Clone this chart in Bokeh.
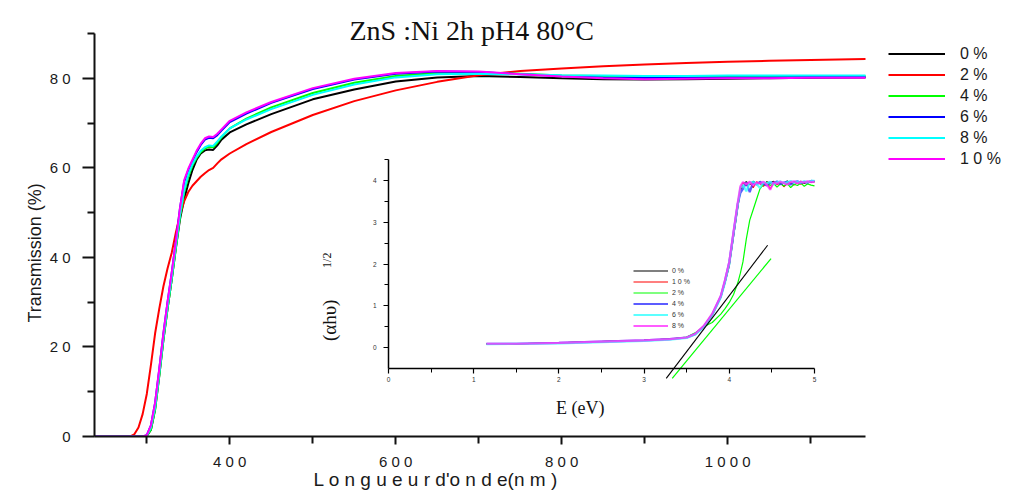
import math
from bokeh.plotting import figure
from bokeh.models import Legend, LegendItem, Label, FixedTicker, Range1d, LinearAxis, Title
from bokeh.embed import file_html
from bokeh.resources import INLINE

# ---------------- main chart data : transmission vs wavelength ----------------
wavelength = [237, 280, 285, 290, 295, 300, 305, 310, 315, 320, 325, 330, 335, 340, 345,
              350, 355, 360, 365, 370, 375, 380, 385, 390, 400, 420, 450, 500, 550, 600,
              650, 700, 750, 800, 850, 900, 950, 1000, 1050, 1100, 1166]

trans_0 = [0, 0, 0, 0, 0, 0.1, 1.5, 6, 13.5, 21.5, 28.5, 35, 42, 48.5, 53,
           56.5, 59.5, 61.8, 63.2, 63.9, 64.1, 64.0, 65.0, 66.3, 67.9, 69.7, 72.0, 75.3, 77.5, 79.3,
           80.2, 80.5, 80.3, 80.0, 79.8, 79.7, 79.8, 79.9, 80.0, 80.1, 80.2]
trans_2 = [0, 0, 0.5, 2, 5, 9.5, 16, 23, 28.5, 33.5, 37.5, 41, 45.5, 49.5, 52.5,
           54.6, 56.0, 57.0, 58.0, 58.8, 59.5, 60.0, 61.0, 61.9, 63.2, 65.3, 68.0, 71.8, 74.9, 77.3,
           79.2, 80.7, 81.6, 82.2, 82.7, 83.1, 83.4, 83.7, 83.9, 84.1, 84.3]
trans_4 = [0, 0, 0, 0, 0, 0.1, 1.5, 6, 13.5, 21.5, 28.5, 35, 42, 49, 54.5,
           58, 60.5, 62.2, 63.5, 64.3, 64.7, 64.6, 65.6, 66.8, 68.8, 71.0, 73.5, 76.7, 79.0, 80.5,
           81.2, 81.3, 81.0, 80.6, 80.5, 80.5, 80.5, 80.5, 80.5, 80.5, 80.5]
trans_6 = [0, 0, 0, 0, 0, 0.3, 2.5, 7.5, 15, 23, 30, 36.5, 43.5, 51, 56.8,
           59.5, 61.5, 63.5, 65.1, 66.3, 66.7, 66.6, 67.3, 68.3, 70.2, 72.1, 74.5, 77.6, 79.7, 81.0,
           81.5, 81.4, 80.9, 80.5, 80.2, 80.1, 80.1, 80.2, 80.2, 80.3, 80.3]
trans_8 = [0, 0, 0, 0, 0, 0.2, 2, 6.5, 14, 22, 29, 35.5, 42.5, 49.5, 55,
           58.5, 60.8, 62.5, 63.8, 64.6, 65.0, 64.9, 65.9, 67.0, 68.8, 70.8, 73.1, 76.3, 78.6, 80.2,
           80.9, 81.0, 80.9, 80.7, 80.6, 80.5, 80.5, 80.6, 80.6, 80.6, 80.6]
trans_10 = [0, 0, 0, 0, 0, 0.3, 2.5, 7.5, 15, 23, 30, 36.5, 43.5, 51, 57.2,
            59.8, 61.8, 63.8, 65.4, 66.6, 67.0, 66.9, 67.6, 68.6, 70.5, 72.4, 74.7, 77.8, 79.9, 81.2,
            81.6, 81.5, 80.9, 80.4, 80.0, 79.8, 79.9, 80.0, 80.0, 80.1, 80.1]

main_labels = ["0 %", "2 %", "4 %", "6 %", "8 %", "1 0 %"]
main_colors = ["#000000", "#ff0000", "#00ff00", "#0000ff", "#00ffff", "#ff00ff"]
main_series = [trans_0, trans_2, trans_4, trans_6, trans_8, trans_10]

x_major = [400, 600, 800, 1000]
x_major_labels = ["4 0 0", "6 0 0", "8 0 0", "1 0 0 0"]
x_minor = [300, 500, 700, 900, 1100]
y_major = [0, 20, 40, 60, 80]
y_major_labels = ["0", "2 0", "4 0", "6 0", "8 0"]
y_minor = [10, 30, 50, 70, 90]

# ---------------- inset data : (alpha h nu)^1/2 vs E ----------------
energy = [1.15, 1.5, 2.0, 2.5, 3.0, 3.3, 3.5, 3.6, 3.7, 3.8, 3.9, 3.95, 4.0, 4.05, 4.1, 4.13,
          4.16, 4.20, 4.24, 4.28, 4.32, 4.36, 4.40, 4.44, 4.48, 4.52, 4.56, 4.60, 4.64, 4.68,
          4.72, 4.76, 4.80, 4.84, 4.88, 4.92, 4.96, 5.00]
ahv_0 = [0.09, 0.09, 0.11, 0.14, 0.17, 0.20, 0.24, 0.32, 0.50, 0.78, 1.20, 1.55, 1.95, 2.65, 3.35, 3.75,
         3.92, 3.97, 3.90, 3.98, 3.93, 3.96, 3.89, 3.97, 3.94, 3.98, 3.91, 3.96, 3.93, 3.99,
         3.92, 3.97, 3.95, 3.98, 3.93, 3.97, 3.96, 3.98]
ahv_10 = [0.09, 0.09, 0.11, 0.14, 0.17, 0.20, 0.24, 0.33, 0.51, 0.80, 1.22, 1.58, 2.00, 2.70, 3.40, 3.80,
          3.95, 3.88, 3.96, 3.83, 3.97, 3.92, 3.86, 3.95, 3.80, 3.94, 3.90, 3.96, 3.85, 3.93,
          3.97, 3.89, 3.95, 3.91, 3.97, 3.94, 3.98, 3.96]
ahv_2 = [0.08, 0.09, 0.11, 0.14, 0.17, 0.20, 0.25, 0.35, 0.50, 0.60, 0.80, 0.93, 1.08, 1.27, 1.55, 1.78,
         2.05, 2.60, 3.05, 3.30, 3.55, 3.80, 3.90, 3.95, 3.88, 3.93, 3.84, 3.92, 3.87, 3.93,
         3.83, 3.91, 3.88, 3.94, 3.86, 3.92, 3.89, 3.87]
ahv_4 = [0.09, 0.09, 0.11, 0.14, 0.17, 0.20, 0.24, 0.32, 0.50, 0.79, 1.22, 1.60, 2.05, 2.75, 3.45, 3.70,
         3.80, 3.95, 3.72, 3.96, 3.90, 3.97, 3.92, 3.88, 3.96, 3.93, 3.98, 3.91, 3.95, 3.97,
         3.90, 3.96, 3.98, 3.94, 3.97, 3.95, 3.99, 3.98]
ahv_6 = [0.08, 0.09, 0.10, 0.13, 0.16, 0.19, 0.23, 0.31, 0.49, 0.78, 1.20, 1.56, 2.00, 2.72, 3.42, 3.82,
         3.90, 3.74, 3.95, 3.97, 3.92, 3.82, 3.96, 3.93, 3.97, 3.90, 3.95, 3.98, 3.93, 3.96,
         3.99, 3.94, 3.97, 3.95, 3.98, 3.96, 3.99, 3.99]
ahv_8 = [0.09, 0.09, 0.11, 0.14, 0.17, 0.20, 0.24, 0.33, 0.52, 0.81, 1.24, 1.62, 2.05, 2.78, 3.48, 3.86,
         3.96, 3.91, 3.97, 3.88, 3.95, 3.93, 3.97, 3.90, 3.78, 3.96, 3.92, 3.97, 3.94, 3.90,
         3.96, 3.98, 3.93, 3.97, 3.95, 3.98, 3.96, 3.97]

tangent_0_e = [3.26, 4.45]
tangent_0_y = [-0.74, 2.45]
tangent_2_e = [3.33, 4.49]
tangent_2_y = [-0.74, 2.13]

inset_labels = ["0 %", "1 0 %", "2 %", "4 %", "6 %", "8 %"]
inset_colors = ["#000000", "#ff0000", "#00ff00", "#3333ff", "#33ffff", "#ff33ff"]
inset_series = [ahv_0, ahv_10, ahv_2, ahv_4, ahv_6, ahv_8]
inset_widths = [1.1, 1.2, 1.2, 2.2, 2.2, 2.2]
inset_alphas = [1.0, 1.0, 1.0, 0.8, 0.8, 0.8]

SANS = "Liberation Sans"
SERIF = "Liberation Serif"

# ---------------- figure ----------------
# the frame runs on to the right edge so that the legend sits inside it;
# the wavelength axis itself is bounded to the data span
p = figure(width=1009, height=491, x_range=Range1d(237, 1334.7), y_range=Range1d(0, 90),
           output_backend="svg", toolbar_location=None, title="ZnS :Ni 2h pH4 80°C",
           min_border_left=94, min_border_right=4, min_border_top=33, min_border_bottom=55)
p.outline_line_color = None
p.xgrid.visible = False
p.ygrid.visible = False
p.title.text_font = SERIF
p.title.text_font_size = "28px"
p.title.text_font_style = "normal"
p.title.text_color = "#111111"
p.title.align = "left"
p.title.offset = 255
p.title.standoff = -24
p.title.text_line_height = 1.0

# inset coordinate system inside the main frame
p.extra_x_ranges = {"inset_x": Range1d(-3.4507, 7.2418)}
p.extra_y_ranges = {"inset_y": Range1d(-2.1317, 7.521)}

renderers = []
for ys, c in zip(main_series, main_colors):
    renderers.append(p.line(wavelength, ys, line_color=c, line_width=2))

xa = p.xaxis[0]
ya = p.yaxis[0]
xa.bounds = (237, 1166)
xa.ticker = FixedTicker(ticks=x_major, minor_ticks=x_minor)
ya.ticker = FixedTicker(ticks=y_major, minor_ticks=y_minor)
xa.major_label_overrides = dict(zip(x_major, x_major_labels))
ya.major_label_overrides = dict(zip(y_major, y_major_labels))
for ax in (xa, ya):
    ax.axis_line_width = 2
    ax.axis_line_color = "#111111"
    ax.major_tick_line_width = 2
    ax.minor_tick_line_width = 2
    ax.major_tick_line_color = "#111111"
    ax.minor_tick_line_color = "#111111"
    ax.major_tick_in = 0
    ax.minor_tick_in = 0
    ax.major_label_text_font = SANS
    ax.major_label_text_font_size = "15px"
    ax.major_label_text_color = "#1a1a1a"
xa.major_tick_out = 8
xa.minor_tick_out = 7
xa.major_label_standoff = 8
ya.major_tick_out = 12
ya.minor_tick_out = 7
ya.major_label_standoff = 12

legend = Legend(items=[LegendItem(label=l, renderers=[r]) for l, r in zip(main_labels, renderers)],
                location=(794, 267), glyph_width=57, glyph_height=21, label_height=21,
                spacing=0, padding=0, margin=0, label_standoff=15,
                label_text_font=SANS, label_text_font_size="16px", label_text_color="#1a1a1a",
                border_line_color=None, background_fill_alpha=0)
p.add_layout(legend, "center")

p.add_layout(Title(text="L o n g u e u r d'o n d e(n m )", align="left", offset=219,
                   text_font=SANS, text_font_size="19px", text_font_style="normal",
                   text_color="#1a1a1a", standoff=-12), "below")

# ---------------- inset ----------------
inset_renderers = []
for ys, c, w, a in zip(inset_series, inset_colors, inset_widths, inset_alphas):
    inset_renderers.append(p.line(energy, ys, line_color=c, line_width=w, line_alpha=a,
                                  x_range_name="inset_x", y_range_name="inset_y"))
p.line(tangent_0_e, tangent_0_y, line_color="#000000", line_width=1.1,
       x_range_name="inset_x", y_range_name="inset_y")
p.line(tangent_2_e, tangent_2_y, line_color="#00ff00", line_width=1.2,
       x_range_name="inset_x", y_range_name="inset_y")

ixa = LinearAxis(x_range_name="inset_x", y_range_name="inset_y", fixed_location=-0.5,
                 bounds=(0, 5), ticker=FixedTicker(ticks=[0, 1, 2, 3, 4, 5],
                                                   minor_ticks=[0.5, 1.5, 2.5, 3.5, 4.5]))
iya = LinearAxis(x_range_name="inset_x", y_range_name="inset_y", fixed_location=0,
                 bounds=(-0.5, 4.5), ticker=FixedTicker(ticks=[0, 1, 2, 3, 4],
                                                        minor_ticks=[0.5, 1.5, 2.5, 3.5, 4.5]))
for ax in (ixa, iya):
    ax.axis_line_width = 1.5
    ax.major_tick_line_width = 1.2
    ax.minor_tick_line_width = 1
    ax.major_tick_in = 0
    ax.minor_tick_in = 0
    ax.major_tick_out = 5
    ax.minor_tick_out = 4
    ax.major_label_text_font = SANS
    ax.major_label_text_font_size = "6.5px"
    ax.major_label_text_color = "#333333"
ixa.major_label_standoff = 4
iya.major_label_standoff = 7
p.add_layout(ixa, "below")
p.add_layout(iya, "left")

# y-axis title of the main chart (placed after the axes in the left panel)
p.add_layout(Title(text="Transmission (%)", align="left", offset=114,
                   text_font=SANS, text_font_size="18px", text_font_style="normal",
                   text_color="#1a1a1a", standoff=4), "left")

p.add_layout(Label(x=2.25, y=-1.44, text="E (eV)", text_font=SERIF, text_font_size="18px",
                   text_color="#111111", text_align="center", text_baseline="alphabetic",
                   x_range_name="inset_x", y_range_name="inset_y"))
p.add_layout(Label(x=-0.69, y=0.65, text="(αhυ)", text_font=SERIF, text_font_size="19px",
                   text_color="#111111", angle=math.pi / 2,
                   text_align="center", text_baseline="middle",
                   x_range_name="inset_x", y_range_name="inset_y"))
p.add_layout(Label(x=-0.72, y=2.09, text="1/2", text_font=SERIF, text_font_size="12px",
                   text_color="#111111", angle=math.pi / 2,
                   text_align="center", text_baseline="middle",
                   x_range_name="inset_x", y_range_name="inset_y"))

inset_legend = Legend(items=[LegendItem(label=l, renderers=[r]) for l, r in zip(inset_labels, inset_renderers)],
                      location=(539, 105), glyph_width=35, glyph_height=11, label_height=11,
                      spacing=0, padding=0, margin=0, label_standoff=4,
                      label_text_font=SANS, label_text_font_size="7px", label_text_color="#333333",
                      border_line_color=None, background_fill_alpha=0)
p.add_layout(inset_legend, "center")

open("out.html", "w").write(file_html(p, INLINE))
